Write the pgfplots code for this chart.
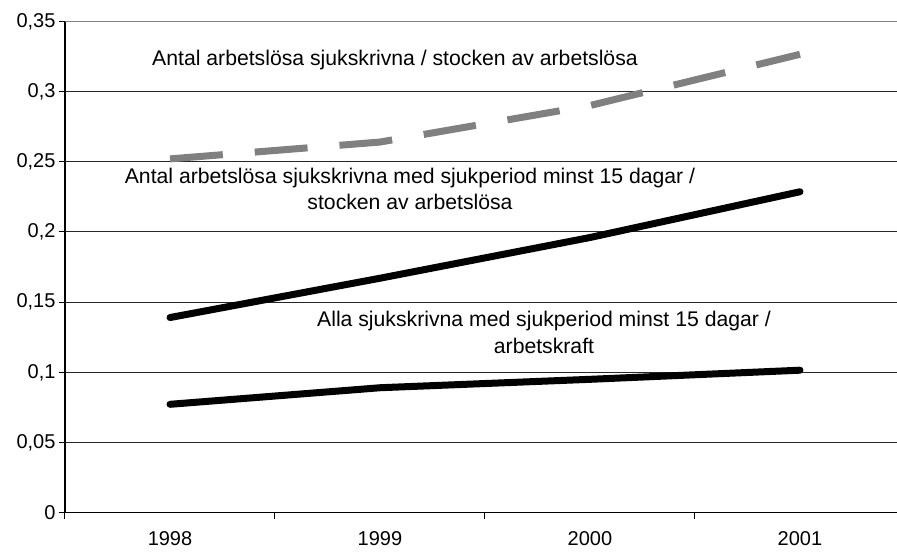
\documentclass[border=0pt]{standalone}
\usepackage{pgfplots}
\pgfplotsset{compat=1.18}
\usepackage{fontspec}
\setmainfont{Liberation Sans}
\definecolor{dashgray}{RGB}{128,128,128}
\begin{document}
\begin{tikzpicture}[x=1pt,y=1pt]
\useasboundingbox (0,0) rectangle (897,552);
\begin{axis}[
  at={(65pt,39.3pt)}, anchor=south west,
  scale only axis, width=832pt, height=491.4pt,
  xmin=-0.5, xmax=3.462, ymin=0, ymax=0.35,
  axis x line*=bottom, axis y line*=left,
  axis line style={black, line width=1.2pt, -},
  tick align=outside,
  major tick length=6pt,
  tick style={black, line width=1pt},
  /pgf/number format/assume math mode=true,
  ticklabel style={font=\fontsize{20}{24}\selectfont},
  ytick={0,0.05,0.1,0.15,0.2,0.25,0.3},
  yticklabels={0,{0,05},{0,1},{0,15},{0,2},{0,25},{0,3}},
  extra y ticks={0.35},
  extra y tick labels={0{,}35},
  extra y tick style={ymajorgrids=true, major grid style={dashgray, line width=1.4pt}},
  ymajorgrids=true,
  major grid style={black!85, line width=0.8pt},
  xtick={-0.5,0.5,1.5,2.5},
  xticklabels={},
  extra x ticks={0,1,2,3},
  extra x tick labels={1998,1999,2000,2001},
  extra x tick style={major tick length=0pt, xticklabel style={yshift=-15pt}},
  clip=false,
]
\addplot[dashgray, line width=7pt, dash pattern=on 53pt off 32pt, mark=none] coordinates {(0,0.252)(1,0.264)(2,0.290)(3,0.3265)};
\addplot[black, line width=7pt, line cap=round, line join=round, mark=none] coordinates {(0,0.139)(1,0.167)(2,0.196)(3,0.2286)};
\addplot[black, line width=7pt, line cap=round, line join=round, mark=none] coordinates {(0,0.0772)(1,0.089)(2,0.095)(3,0.1015)};
\node[align=center, font=\fontsize{21.2}{26}\selectfont] at (axis cs:1.0714,0.3224) {Antal arbetslösa sjukskrivna / stocken av arbetslösa};
\node[align=center, font=\fontsize{21.2}{25.5}\selectfont] at (axis cs:1.1429,0.2305) {Antal arbetslösa sjukskrivna med sjukperiod minst 15 dagar /\\stocken av arbetslösa};
\node[align=center, font=\fontsize{21.2}{27}\selectfont] at (axis cs:1.781,0.1287) {Alla sjukskrivna med sjukperiod minst 15 dagar /\\arbetskraft};
\end{axis}
\end{tikzpicture}
\end{document}
